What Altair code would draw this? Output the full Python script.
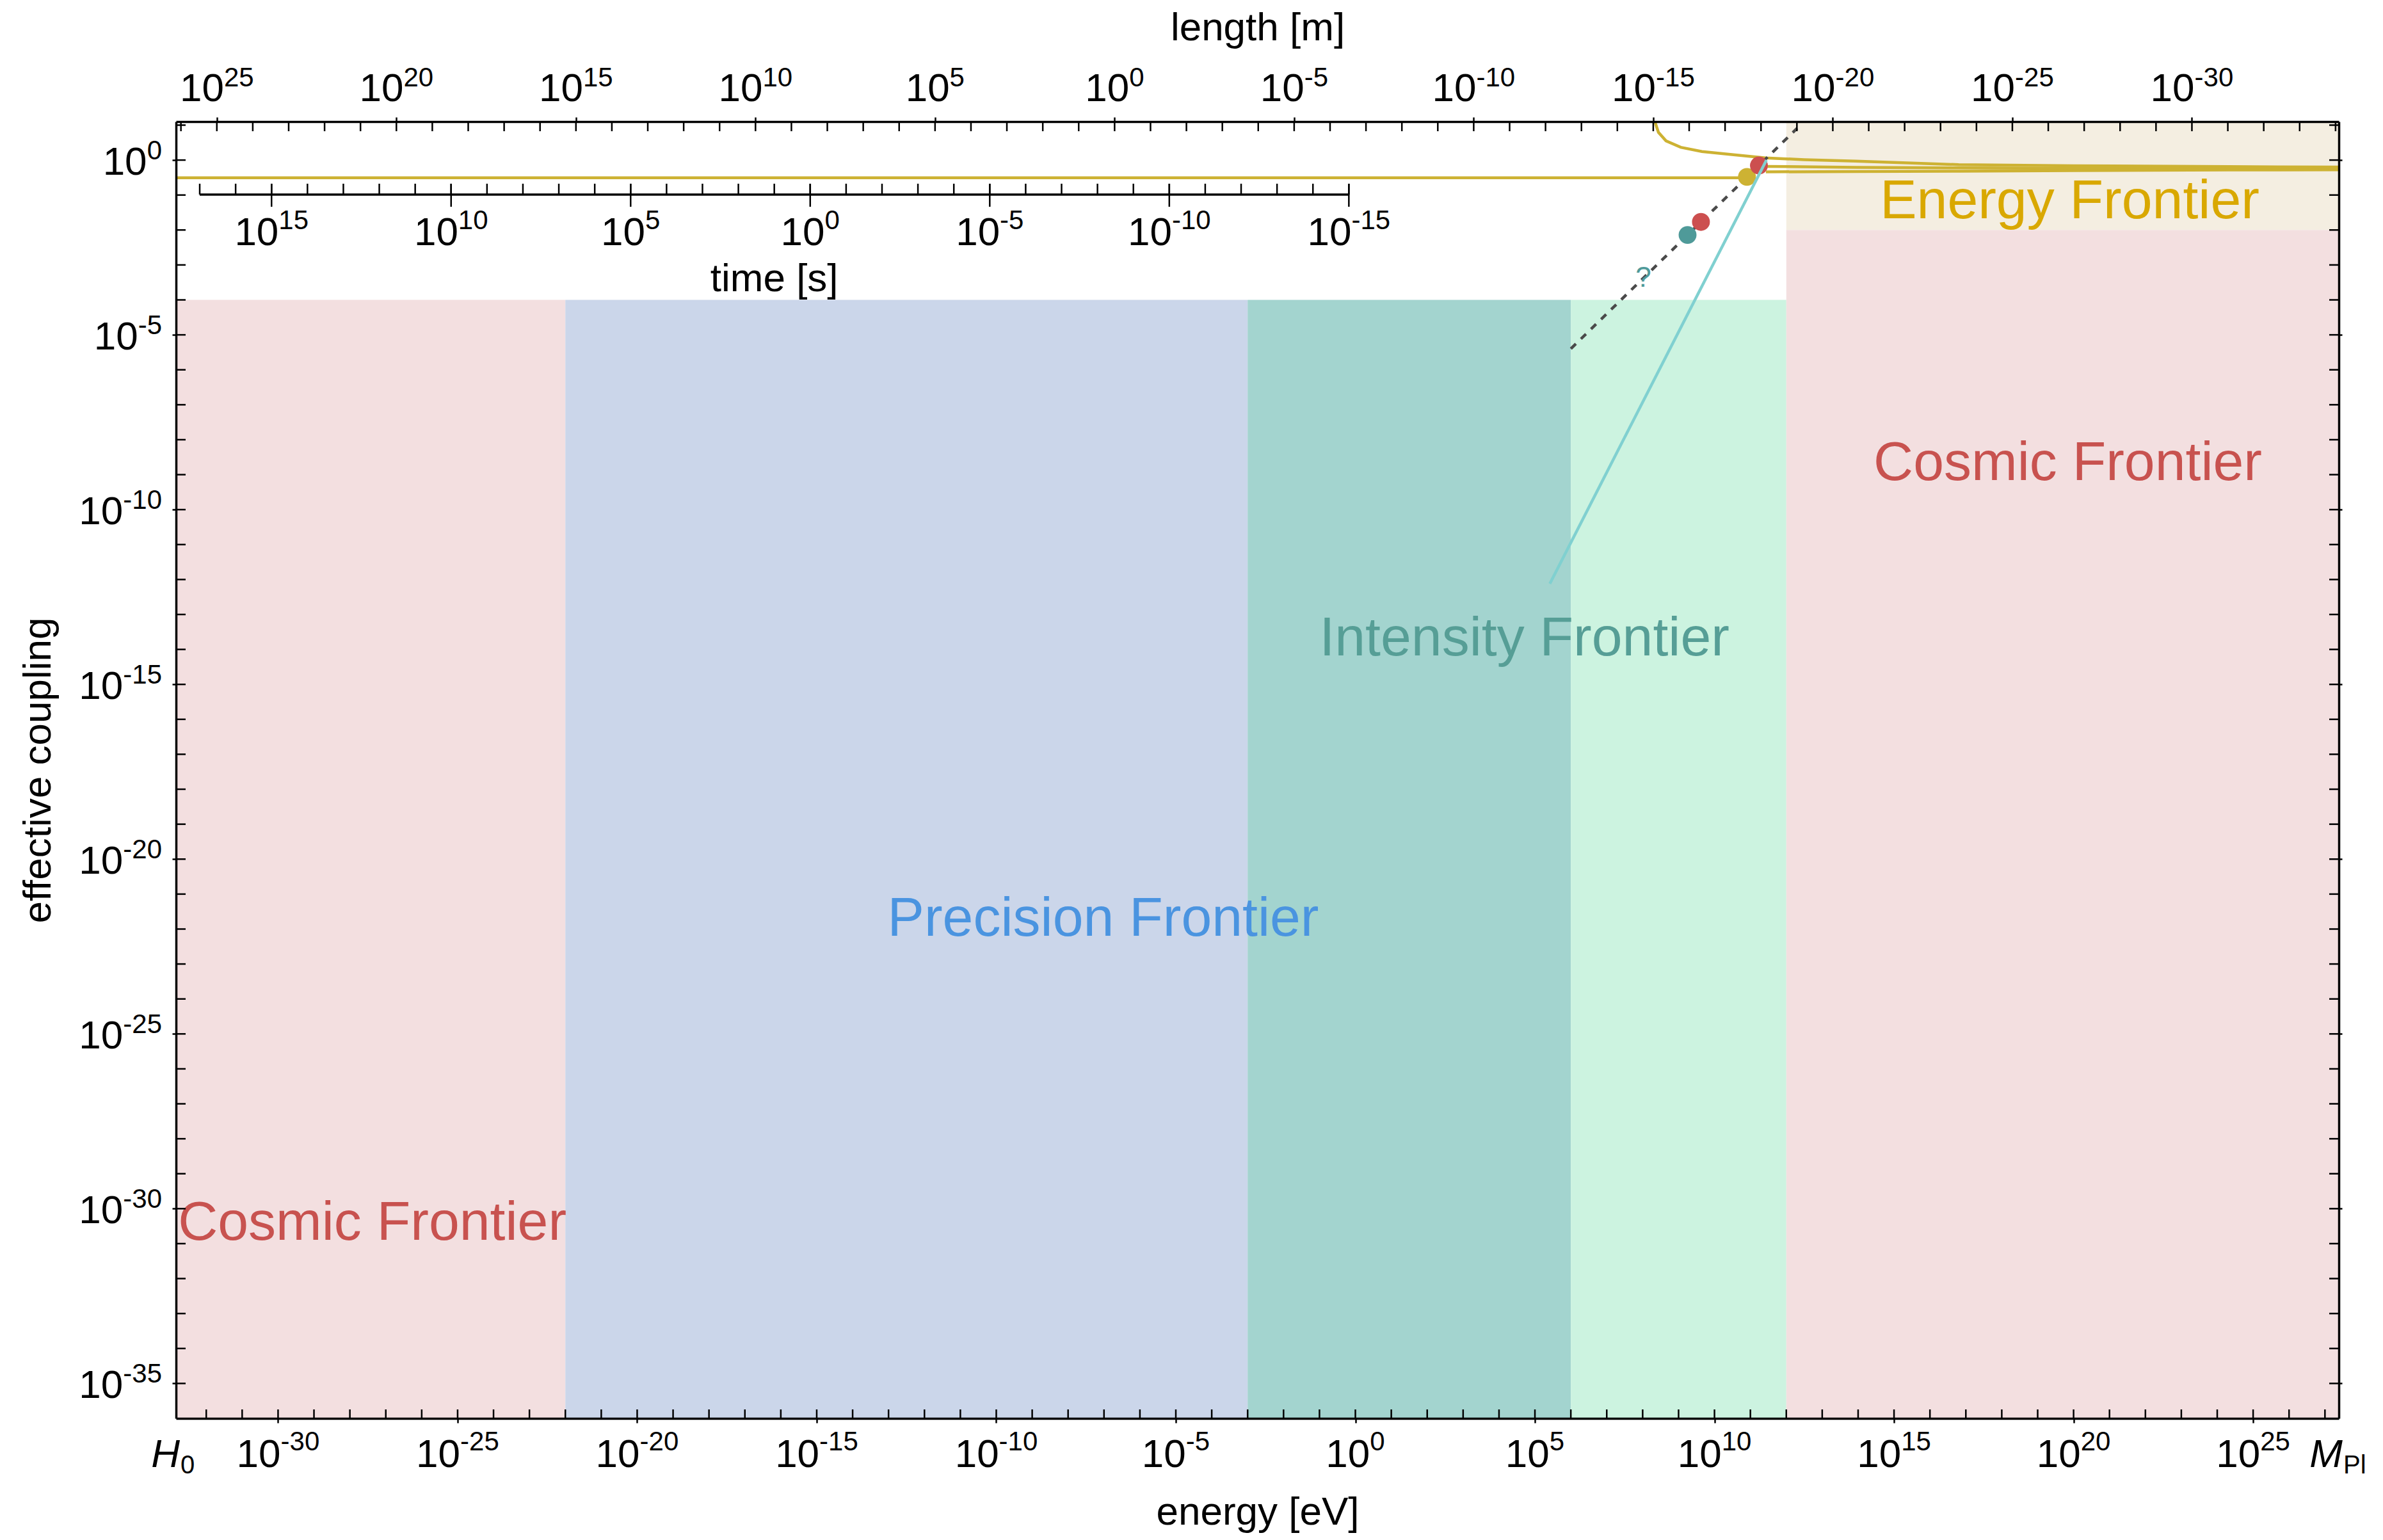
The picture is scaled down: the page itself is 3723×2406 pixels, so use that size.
import altair as alt
import pandas as pd

# ---------------- constants / data ----------------
H0 = 1.44e-33          # eV (Hubble scale, left edge)
MPL = 2.435e27         # eV (reduced Planck mass, right edge)
YMIN, YMAX = 1e-36, 12.6
HBAR = 6.582e-16       # eV s
HBARC = 1.9733e-7      # eV m

W, H = 3379, 2026
FONT = "Liberation Sans"

# frontier regions
region_x0 = [H0, 1e-22, 1e-3, 1e6, 1e12, 1e12]
region_x1 = [1e-22, 1e-3, 1e6, 1e12, MPL, MPL]
region_y0 = [1e-36, 1e-36, 1e-36, 1e-36, 1e-36, 1e-2]
region_y1 = [1e-4, 1e-4, 1e-4, 1e-4, 1e-2, YMAX]
region_colors = ["#f3dfe0", "#cbd6ea", "#a3d4cf", "#ccf3e0", "#f3dfe0", "#f4eee1"]

# frontier labels
label_text = ["Cosmic Frontier", "Precision Frontier", "Intensity Frontier",
              "Energy Frontier", "Cosmic Frontier"]
label_x = [4.2e-28, 9.5e-8, 5.1e4, 7.8e19, 6.9e19]
label_y = [1.26e-31, 6.3e-23, 6.6e-15, 2.2e-2, 6.9e-10]
label_colors = ["#c8524f", "#4a94e0", "#569e96", "#d9a800", "#c8524f"]

# electric charge (horizontal yellow line)
e_x = [H0, 8.04e10]
e_y = [0.31, 0.31]

# running gauge couplings
g3_x = [2.19e8, 2.75e8, 4.47e8, 1.15e9, 4.47e9, 3.39e10, 2.69e11, 3.16e12,
        8.71e13, 3.16e15, 6.31e16, 1e20, 2.0e24, 2.435e27]
g3_y = [12.6, 6.2, 3.55, 2.32, 1.75, 1.42, 1.15, 1.03, 0.93, 0.82, 0.74, 0.69, 0.65, 0.63]
g2_x = [2.7e11, 8.7e13, 6.3e16, 1e20, 2.0e24, 2.435e27]
g2_y = [0.66, 0.62, 0.60, 0.58, 0.57, 0.56]
g1_x = [2.7e11, 8.7e13, 6.3e16, 1e20, 2.0e24, 2.435e27]
g1_y = [0.46, 0.47, 0.48, 0.50, 0.52, 0.53]

# Yukawa-like dashed line (m / v)
yuk_x = [1e6, 2.0e12]
yuk_y = [4.0e-6, 8.1]

# Fermi coupling line
gf_x = [2.6e5, 2.8e11]
gf_y = [7.6e-13, 1.0]

# particles
dot_names = ["W", "top", "bottom", "tau"]
dot_x = [8.04e10, 1.73e11, 4.2e9, 1.78e9]
dot_y = [0.33, 0.70, 1.7e-2, 7.2e-3]
dot_colors = ["#cdb233", "#cc4f4f", "#cc4f4f", "#4f9a99"]

q_x = [1.05e8]
q_y = [2.35e-4]

# axis tick exponents
bottom_exps = [-30, -25, -20, -15, -10, -5, 0, 5, 10, 15, 20, 25]
left_exps = [0, -5, -10, -15, -20, -25, -30, -35]
top_exps = [25, 20, 15, 10, 5, 0, -5, -10, -15, -20, -25, -30]
time_major = [15, 10, 5, 0, -5, -10, -15]
time_minor = list(range(17, -16, -1))
energy_minor = list(range(-32, 28))
coupling_minor = list(range(-35, 2))
length_minor = list(range(26, -35, -1))

bottom_vals = [10.0 ** k for k in bottom_exps]
left_vals = [10.0 ** k for k in left_exps]
top_vals = [HBARC / 10.0 ** k for k in top_exps]
time_vals = [HBAR / 10.0 ** k for k in time_major]

# ---------------- tables ----------------
regions = pd.DataFrame({"x0": region_x0, "x1": region_x1, "y0": region_y0,
                        "y1": region_y1, "color": region_colors})
labels = pd.DataFrame({"text": label_text, "x": label_x, "y": label_y, "color": label_colors})
eline = pd.DataFrame({"x": e_x, "y": e_y})
g3 = pd.DataFrame({"x": g3_x, "y": g3_y})
g2 = pd.DataFrame({"x": g2_x, "y": g2_y})
g1 = pd.DataFrame({"x": g1_x, "y": g1_y})
yuk = pd.DataFrame({"x": yuk_x, "y": yuk_y})
gf = pd.DataFrame({"x": gf_x, "y": gf_y})
dots = pd.DataFrame({"name": dot_names, "x": dot_x, "y": dot_y, "color": dot_colors,
                     "order": list(range(len(dot_names)))})
qmark = pd.DataFrame({"x": q_x, "y": q_y, "t": ["?"]})

bottom_minor_df = pd.DataFrame({"x": [10.0 ** k for k in energy_minor]})
left_minor_df = pd.DataFrame({"y": [10.0 ** k for k in coupling_minor]})
top_minor_df = pd.DataFrame({"x": [HBARC / 10.0 ** k for k in length_minor]})

time_line_df = pd.DataFrame({"a": [HBAR / 10.0 ** time_minor[0]], "b": [HBAR / 10.0 ** time_minor[-1]]})
time_minor_df = pd.DataFrame({"x": [HBAR / 10.0 ** k for k in time_minor]})
time_major_df = pd.DataFrame({"x": time_vals})
time_title_df = pd.DataFrame({"x": [HBAR / 10.0 ** 1], "t": ["time [s]"]})

edge_df = pd.DataFrame({"x": [H0, MPL], "main": ["H", "M"], "sub": ["0", "Pl"]})

# ---------------- scales & axes ----------------
xs = alt.Scale(type="log", domain=[H0, MPL], nice=False)
ys = alt.Scale(type="log", domain=[YMIN, YMAX], nice=False)

common_axis = dict(labels=False,
                   titleFont=FONT, titleFontSize=62, titleFontWeight="normal", titleColor="black",
                   tickColor="black", tickWidth=2.5, domainColor="black", domainWidth=3.5,
                   grid=False, zindex=1)

bottom_axis = alt.Axis(orient="bottom", values=bottom_vals, tickSize=7,
                       title="energy [eV]", titleX=W / 2, titleY=165, titleAlign="center",
                       titleBaseline="alphabetic", **common_axis)
left_axis = alt.Axis(orient="left", values=left_vals, tickSize=6,
                     title="effective coupling", titleX=-197, titleY=H / 2, titleAngle=270,
                     titleAlign="center", titleBaseline="alphabetic", **common_axis)
top_axis = alt.Axis(orient="top", values=top_vals, tickSize=7,
                    title="length [m]", titleX=W / 2, titleY=-128, titleAlign="center",
                    titleBaseline="alphabetic", **common_axis)
right_axis = alt.Axis(orient="right", values=left_vals, labels=False, title=None, tickSize=5,
                      tickColor="black", tickWidth=2.5, domainColor="black", domainWidth=3.5,
                      grid=False, zindex=1)

# ---------------- power-of-ten labels (10 + raised exponent) ----------------
BASE_SIZE, SUP_SIZE = 62, 42
W10 = 2 * 0.556 * BASE_SIZE


def sup_width(s):
    return SUP_SIZE * sum(0.333 if ch == "-" else 0.556 for ch in s)


def centered_pow_labels(exps, values, y_base, y_sup):
    df = pd.DataFrame({"v": values, "e": [str(k) for k in exps]})
    df["w"] = [round(sup_width(s), 1) for s in df["e"]]
    out = []
    for w, sub in df.groupby("w"):
        dx = (W10 - w) / 2
        out.append(alt.Chart(sub).mark_text(font=FONT, fontSize=BASE_SIZE, align="right",
                                            baseline="alphabetic", dx=dx, color="black").encode(
            x=alt.X("v:Q", scale=xs), y=alt.value(y_base), text=alt.value("10")))
        out.append(alt.Chart(sub).mark_text(font=FONT, fontSize=SUP_SIZE, align="left",
                                            baseline="alphabetic", dx=dx, color="black").encode(
            x=alt.X("v:Q", scale=xs), y=alt.value(y_sup), text="e:N"))
    return out


def left_pow_labels(exps, values, x_right):
    df = pd.DataFrame({"v": values, "e": [str(k) for k in exps]})
    df["w"] = [round(sup_width(s), 1) for s in df["e"]]
    out = []
    for w, sub in df.groupby("w"):
        out.append(alt.Chart(sub).mark_text(font=FONT, fontSize=BASE_SIZE, align="right",
                                            baseline="alphabetic", dx=-w, dy=23,
                                            color="black").encode(
            y=alt.Y("v:Q", scale=ys), x=alt.value(x_right), text=alt.value("10")))
        out.append(alt.Chart(sub).mark_text(font=FONT, fontSize=SUP_SIZE, align="right",
                                            baseline="alphabetic", dy=-1, color="black").encode(
            y=alt.Y("v:Q", scale=ys), x=alt.value(x_right), text="e:N"))
    return out


bottom_labels = centered_pow_labels(bottom_exps, bottom_vals, H + 76, H + 50)
top_labels = centered_pow_labels(top_exps, top_vals, -32, -55)
time_labels = centered_pow_labels(time_major, time_vals, 193, 168)
left_labels = left_pow_labels(left_exps, left_vals, -22)

# ---------------- layers ----------------
rects = alt.Chart(regions).mark_rect(strokeWidth=0).encode(
    x=alt.X("x0:Q", scale=xs, axis=bottom_axis),
    x2="x1:Q",
    y=alt.Y("y0:Q", scale=ys, axis=left_axis),
    y2="y1:Q",
    color=alt.Color("color:N", scale=None),
)

YEL = "#cdb233"


def line_layer(df, color, width, dash=None):
    kw = dict(color=color, strokeWidth=width, clip=True)
    if dash:
        kw["strokeDash"] = dash
    return alt.Chart(df).mark_line(**kw).encode(
        x=alt.X("x:Q", scale=xs), y=alt.Y("y:Q", scale=ys))


e_layer = line_layer(eline, YEL, 4.5)
g3_layer = line_layer(g3, YEL, 4.5)
g2_layer = line_layer(g2, YEL, 4.5)
g1_layer = line_layer(g1, YEL, 4.5)
yuk_layer = line_layer(yuk, "#4a4a4a", 4.5, [11, 11])
gf_layer = line_layer(gf, "#80d0d0", 4.5)

dot_layer = alt.Chart(dots).mark_circle(size=780, opacity=1).encode(
    x=alt.X("x:Q", scale=xs), y=alt.Y("y:Q", scale=ys),
    color=alt.Color("color:N", scale=None), order="order:Q")

q_layer = alt.Chart(qmark).mark_text(font=FONT, fontSize=44, color="#4f9a99",
                                      baseline="alphabetic", align="center").encode(
    x=alt.X("x:Q", scale=xs), y=alt.Y("y:Q", scale=ys), text="t:N")

label_layer = alt.Chart(labels).mark_text(font=FONT, fontSize=86, baseline="alphabetic",
                                          align="center").encode(
    x=alt.X("x:Q", scale=xs), y=alt.Y("y:Q", scale=ys), text="text:N",
    color=alt.Color("color:N", scale=None))

bottom_minor = alt.Chart(bottom_minor_df).mark_rule(color="black", strokeWidth=2.5).encode(
    x=alt.X("x:Q", scale=xs), y=alt.value(H), y2=alt.value(H - 14))
left_minor = alt.Chart(left_minor_df).mark_rule(color="black", strokeWidth=2.5).encode(
    y=alt.Y("y:Q", scale=ys), x=alt.value(0), x2=alt.value(15))

# inset time axis
time_line = alt.Chart(time_line_df).mark_rule(color="black", strokeWidth=3.5).encode(
    x=alt.X("a:Q", scale=xs), x2="b:Q", y=alt.value(114))
time_minor_ticks = alt.Chart(time_minor_df).mark_rule(color="black", strokeWidth=2.5).encode(
    x=alt.X("x:Q", scale=xs), y=alt.value(97), y2=alt.value(114))
time_major_ticks = alt.Chart(time_major_df).mark_rule(color="black", strokeWidth=2.5).encode(
    x=alt.X("x:Q", scale=xs), y=alt.value(97), y2=alt.value(133))
time_title = alt.Chart(time_title_df).mark_text(font=FONT, fontSize=62, color="black",
                                                baseline="alphabetic", align="center").encode(
    x=alt.X("x:Q", scale=xs), y=alt.value(265), text="t:N")

edge_main = alt.Chart(edge_df).mark_text(font=FONT, fontSize=62, fontStyle="italic",
                                         color="black", baseline="alphabetic",
                                         align="right", dx=6).encode(
    x=alt.X("x:Q", scale=xs), y=alt.value(H + 76), text="main:N")
edge_sub = alt.Chart(edge_df).mark_text(font=FONT, fontSize=40, color="black",
                                        baseline="alphabetic", align="left", dx=7).encode(
    x=alt.X("x:Q", scale=xs), y=alt.value(H + 86), text="sub:N")

base = alt.layer(
    rects, e_layer, g3_layer, g2_layer, g1_layer, yuk_layer, dot_layer, gf_layer,
    q_layer, label_layer, bottom_minor, left_minor,
    time_line, time_minor_ticks, time_major_ticks, time_title,
    edge_main, edge_sub,
    *bottom_labels, *top_labels, *time_labels, *left_labels,
)

top_ticks = alt.Chart(top_minor_df).mark_rule(color="black", strokeWidth=2.5).encode(
    x=alt.X("x:Q", scale=xs, axis=top_axis), y=alt.value(0), y2=alt.value(15))
right_ticks = alt.Chart(left_minor_df).mark_rule(color="black", strokeWidth=2.5).encode(
    y=alt.Y("y:Q", scale=ys, axis=right_axis), x=alt.value(W - 15), x2=alt.value(W))

chart = alt.layer(base, top_ticks, right_ticks).resolve_axis(
    x="independent", y="independent"
).properties(
    width=W, height=H,
    padding={"left": 267, "top": 182, "right": 61, "bottom": 182},
    autosize=alt.AutoSizeParams(type="none"),
    background="white",
).configure_view(stroke=None)

chart.save("out.html", embed_options={"renderer": "svg", "actions": False})
